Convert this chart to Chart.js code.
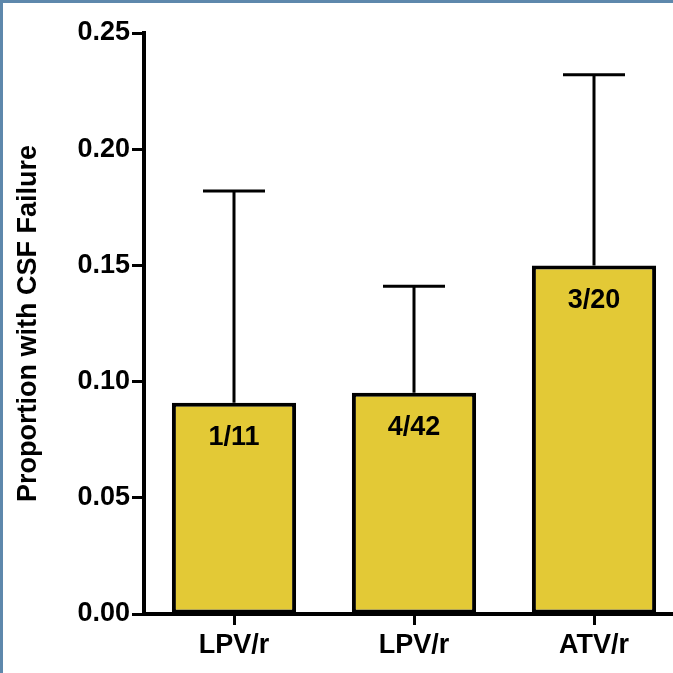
<!DOCTYPE html>
<html>
<head>
<meta charset="utf-8">
<script src="https://cdn.jsdelivr.net/npm/chart.js@4/dist/chart.umd.min.js"></script>
<style>
    html, body { margin: 0; padding: 0; background: #fff; overflow: hidden; }
    #wrap { position: relative; width: 673px; height: 673px; overflow: hidden; }
    #chart { position: absolute; left: 0; top: 0; }
    .edge { position: absolute; background: #5e88ac; z-index: 2; }
</style>
</head>
<body>
<div id="wrap">
    <canvas id="chart" width="700" height="673" style="width:700px;height:673px"></canvas>
    <div class="edge" style="left:0;top:0;width:673px;height:3px"></div>
    <div class="edge" style="left:0;top:0;width:3px;height:673px"></div>
</div>
<script>
// values
const groups = ['LPV/r', 'LPV/r', 'ATV/r'];
const proportions = [0.0909, 0.0952, 0.15];
const upperLimits = [0.182, 0.141, 0.232];
const fractions = ['1/11', '4/42', '3/20'];
const yTicks = [0, 0.05, 0.10, 0.15, 0.20, 0.25];

const FONT = "'Liberation Sans', Arial, sans-serif";

// error bars (upper only) plus the n/N labels inside the bars
const barExtras = {
    id: 'barExtras',
    afterDatasetsDraw(chart) {
        const ctx = chart.ctx;
        const yScale = chart.scales.y;
        const meta = chart.getDatasetMeta(0);
        ctx.save();
        meta.data.forEach(function(bar, i) {
            const top = yScale.getPixelForValue(upperLimits[i]);
            ctx.strokeStyle = '#000';
            ctx.lineWidth = 3;
            ctx.beginPath();
            ctx.moveTo(bar.x, bar.y);
            ctx.lineTo(bar.x, top);
            ctx.moveTo(bar.x - 31, top);
            ctx.lineTo(bar.x + 31, top);
            ctx.stroke();

            ctx.fillStyle = '#000';
            ctx.font = 'bold 27px ' + FONT;
            ctx.textAlign = 'center';
            ctx.textBaseline = 'middle';
            ctx.fillText(fractions[i], bar.x, bar.y + 35);
        });
        ctx.restore();
    }
};

const ctx = document.getElementById('chart').getContext('2d');
new Chart(ctx, {
    type: 'bar',
    data: {
        labels: groups,
        datasets: [{
            data: proportions,
            backgroundColor: '#e3c936',
            borderColor: '#000',
            borderWidth: 4,
            borderSkipped: false,
            barPercentage: 0.69,
            categoryPercentage: 1
        }]
    },
    options: {
        responsive: false,
        animation: false,
        layout: { padding: { top: 33, right: 16, bottom: 0, left: 0 } },
        plugins: {
            legend: { display: false },
            tooltip: { enabled: false }
        },
        scales: {
            x: {
                z: 1,
                offset: true,
                grid: {
                    offset: false,
                    drawOnChartArea: false,
                    color: '#000',
                    tickLength: 11,
                    tickWidth: 3
                },
                border: { color: '#000', width: 4 },
                ticks: {
                    color: '#000',
                    padding: 4,
                    font: { family: FONT, size: 27, weight: 'bold' }
                },
                afterFit(scale) { scale.height = 59; }
            },
            y: {
                min: 0,
                max: 0.25,
                afterBuildTicks(scale) {
                    scale.ticks = yTicks.map(v => ({ value: v }));
                },
                grid: {
                    drawOnChartArea: false,
                    color: '#000',
                    tickLength: 12,
                    tickWidth: 3
                },
                border: { color: '#000', width: 4 },
                ticks: {
                    color: '#000',
                    padding: 2,
                    font: { family: FONT, size: 27, weight: 'bold' },
                    callback: v => v.toFixed(2)
                },
                title: {
                    display: true,
                    text: 'Proportion with CSF Failure',
                    color: '#000',
                    padding: { top: 12, bottom: 0 },
                    font: { family: FONT, size: 27, weight: 'bold' }
                },
                afterFit(scale) { scale.width = 144; }
            }
        }
    },
    plugins: [barExtras]
});
</script>
</body>
</html>
